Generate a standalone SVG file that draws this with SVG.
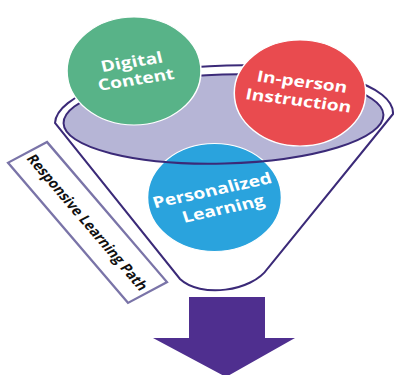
<svg xmlns="http://www.w3.org/2000/svg" width="394" height="375" viewBox="0 0 394 375">
<style>
.rim{fill:#ffffff;stroke:#3b2a78;stroke-width:2}
.bowl{fill:#b6b5d6;stroke:none}
.bowlline{fill:none;stroke:#3b2a78;stroke-width:2}
.node{stroke:#ffffff;stroke-width:1.2}
.lbl{font-family:"Open Sans","Liberation Sans",sans-serif;font-weight:700;font-size:15.5px;fill:#ffffff;text-anchor:middle}
.box{fill:#ffffff;stroke:#7a74a8;stroke-width:2}
.boxlbl{font-family:"Open Sans","Liberation Sans",sans-serif;font-weight:700;font-size:12.5px;fill:#111111;text-anchor:middle}
</style>
<rect width="394" height="375" fill="#ffffff"/>
<g id="funnel">
<path class="rim" d="M55,123 A169,53 -2 0 1 393,114 L268,268 C252,292 200,298 180,279 Z"/>
<ellipse class="bowl" cx="223.5" cy="119" rx="160" ry="44.5" transform="rotate(-1.5 223.5 119)"/>
</g>
<g id="personalized" transform="translate(214.5,197.5) scale(1.24,1)">
<circle class="node" r="54" fill="#2aa3dd"/>
<text class="lbl" transform="rotate(-15)"><tspan x="0" y="-2">Personalized</tspan><tspan x="4" y="18">Learning</tspan></text>
</g>
<g id="funnel-bowl-edge">
<ellipse class="bowlline" cx="223.5" cy="119" rx="160" ry="44.5" transform="rotate(-1.5 223.5 119)"/>
</g>
<g id="digital" transform="translate(134,71) scale(1.24,1)">
<circle class="node" r="54" fill="#58b388"/>
<text class="lbl" transform="rotate(-11)"><tspan x="0" y="-4">Digital</tspan><tspan x="0" y="14">Content</tspan></text>
</g>
<g id="inperson" transform="translate(300,93) scale(1.24,1)">
<circle class="node" r="53" fill="#e94b4f"/>
<text class="lbl" transform="rotate(9)"><tspan x="0" y="-6">In-person</tspan><tspan x="0" y="13">Instruction</tspan></text>
</g>
<g id="path-label" transform="scale(1.27,1) translate(37,142) rotate(56)">
<rect class="box" x="0" y="0" width="169" height="37"/>
<text class="boxlbl" x="84.5" y="23">Responsive Learning Path</text>
</g>
<g id="connectors">
<polygon points="189,297 265,297 265,338 295,338 226,377 153,338 189,338" fill="#4f2f8f"/>
</g>
</svg>
